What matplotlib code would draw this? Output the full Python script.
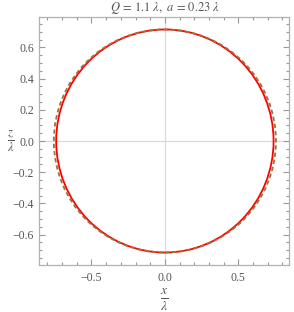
import matplotlib
matplotlib.use("Agg")
import matplotlib.pyplot as plt
from matplotlib.patches import Ellipse
from matplotlib.ticker import MultipleLocator

# Data
title_Q = 1.1
title_a = 0.23
# fitted circle (red, solid): centre and semi-axes in units of lambda
red_center = (0.0, 0.0)
red_semi_axes = (0.740, 0.715)
# shadow boundary (brown, dashed)
dash_center = (0.0, 0.0)
dash_semi_axes = (0.756, 0.715)
xlim = (-0.857, 0.845)
ylim = (-0.795, 0.795)
x_major = 0.5
x_minor = 0.1
y_major = 0.2
y_minor = 0.05

plt.rcParams['mathtext.fontset'] = 'stix'
plt.rcParams['font.family'] = 'Liberation Serif'

fig = plt.figure(figsize=(2.94, 3.12), dpi=100)
ax = fig.add_axes([39/294, 47/312, 250/294, 248/312])

gray = '#999999'
txt = '#555555'

ax.axhline(0, color='#d9d9d9', lw=0.9, zorder=0)
ax.axvline(0, color='#d9d9d9', lw=0.9, zorder=0)

red = Ellipse(red_center, 2*red_semi_axes[0], 2*red_semi_axes[1],
              fill=False, edgecolor='#ff0000', lw=1.3, zorder=2)
ax.add_patch(red)
dash = Ellipse(dash_center, 2*dash_semi_axes[0], 2*dash_semi_axes[1],
               fill=False, edgecolor='#a0703a', lw=1.3,
               linestyle=(0, (2.4, 1.6)), zorder=3)
ax.add_patch(dash)

ax.set_xlim(*xlim)
ax.set_ylim(*ylim)
ax.xaxis.set_major_locator(MultipleLocator(x_major))
ax.xaxis.set_minor_locator(MultipleLocator(x_minor))
ax.yaxis.set_major_locator(MultipleLocator(y_major))
ax.yaxis.set_minor_locator(MultipleLocator(y_minor))
ax.xaxis.set_major_formatter(matplotlib.ticker.FuncFormatter(
    lambda v, p: f"{v:.1f}".replace('-', '\u2212')))
ax.yaxis.set_major_formatter(matplotlib.ticker.FuncFormatter(
    lambda v, p: f"{v:.1f}".replace('-', '\u2212')))

ax.tick_params(which='both', direction='in', top=True, right=True,
               color=gray, labelcolor=txt, labelsize=8.5, width=0.8)
ax.tick_params(which='major', length=4)
ax.tick_params(which='minor', length=2)
ax.tick_params(axis='x', pad=5)
for s in ax.spines.values():
    s.set_color('#b0b0b0')
    s.set_linewidth(0.9)

fig.text(165/294, 1 - 8/312, f"$Q\\,=\\,{title_Q}\\ \\lambda,\\ a\\,=\\,{title_a}\\ \\lambda$",
         ha='center', va='center', color=txt, fontsize=9)
fig.text(164/294, 1 - 300/312, r"$\frac{x}{\lambda}$", ha='center', va='center',
         color=txt, fontsize=14)
fig.text(11/294, 1 - 141/312, r"$\frac{z}{\lambda}$", ha='center', va='center',
         color=txt, fontsize=13)

fig.savefig('out.png', dpi=100)
